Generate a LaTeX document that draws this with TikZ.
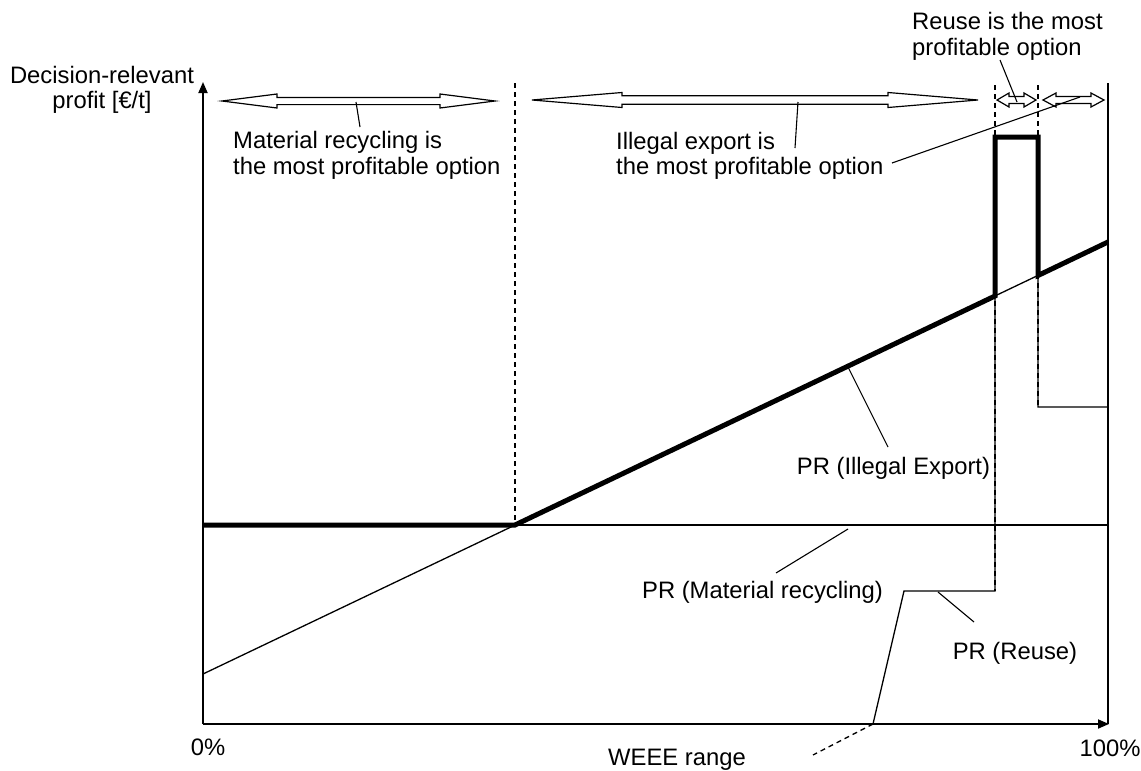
\documentclass[tikz,border=0pt]{standalone}
\usepackage{fontspec}
\setmainfont{Liberation Sans}
\usetikzlibrary{arrows.meta}
% hollow double-headed block arrow: x1, x2, y, head length, head half-height, shaft half-height
\newcommand\blockarrow[6]{%
  \draw[line width=1.2pt, fill=white, line join=miter]
    (#1,#3) -- ({#1+#4},{#3-#5}) -- ({#1+#4},{#3-#6}) -- ({#2-#4},{#3-#6})
    -- ({#2-#4},{#3-#5}) -- (#2,#3) -- ({#2-#4},{#3+#5}) -- ({#2-#4},{#3+#6})
    -- ({#1+#4},{#3+#6}) -- ({#1+#4},{#3+#5}) -- cycle;}
\begin{document}
\begin{tikzpicture}[x={(1pt,0)}, y={(0,-1pt)},
  lbl/.style={inner sep=0pt, font=\fontsize{23.8}{25.5}\selectfont},
  curve/.style={line width=1.3pt},
  bold curve/.style={line width=5pt, line join=miter},
  axis/.style={line width=1.8pt, -{Triangle[length=11pt,width=9pt]}},
  marker/.style={line width=1.3pt, dash pattern=on 5pt off 4pt},
  leader/.style={line width=1.1pt}]
\useasboundingbox (0,0) rectangle (1141,771);

% ---- axes and right frame line
\coordinate (O) at (203,724);
\coordinate (ytop) at (203,82);
\coordinate (xend) at (1109,724);
\coordinate (rtop) at (1108,83);
\draw[line width=1.8pt] (rtop) -- (1108,724);
\draw[axis] (O) -- (ytop);
\draw[axis] (O) -- (xend);

% ---- profit curves (thin)
\coordinate (mr0) at (203,525);
\coordinate (mr1) at (1108,525);
\coordinate (ie0) at (203,674);
\coordinate (ie1) at (1108,242);
\coordinate (cross) at (515,525);
\draw[curve] (mr0) -- (mr1);
\draw[curve] (ie0) -- (ie1);
\coordinate (ru0) at (873,724);
\coordinate (ru1) at (904,591);
\coordinate (ru2) at (995,591);
\coordinate (ru3) at (995,137);
\coordinate (ru4) at (1038,137);
\coordinate (ru5) at (1038,407);
\coordinate (ru6) at (1108,407);
\draw[curve, line join=miter] (ru0) -- (ru1) -- (ru2) -- (ru3) -- (ru4) -- (ru5) -- (ru6);
\coordinate (ruext) at (813,755);
\draw[marker] (ru0) -- (ruext);

% ---- upper envelope (bold)
\draw[bold curve] (mr0) -- (cross) -- (995,296) -- (ru3) -- (ru4) -- (1038,275.5) -- (ie1);

% ---- range boundaries
\draw[marker] (515,83) -- (cross);
\draw[marker] (995,85) -- (995,591);
\draw[marker] (1038,85) -- (ru5);

% ---- range arrows
\blockarrow{222}{495}{101}{55}{7}{3.6}
\blockarrow{532}{978}{100}{90}{7.5}{4.3}
\blockarrow{997}{1036}{100}{12}{7}{3.5}
\blockarrow{1043}{1104}{100}{13}{7}{3.5}

% ---- labels
\node[lbl, align=center] (ylab) at (102,90) {Decision-relevant\\profit [€/t]};
\node[lbl, align=left, anchor=west] (mrtxt) at (233,155.5) {Material recycling is\\the most profitable option};
\node[lbl, align=left, anchor=west] (ietxt) at (616,156) {Illegal export is\\the most profitable option};
\node[lbl, align=left, anchor=west] (rutxt) at (912,36.5) {Reuse is the most\\profitable option};
\node[lbl] (ielab) at (893.5,468) {PR (Illegal Export)};
\node[lbl] (mrlab) at (762.5,592) {PR (Material recycling)};
\node[lbl] (rulab) at (1015,653) {PR (Reuse)};
\node[lbl] (zero) at (208,747) {0\%};
\node[lbl] (hundred) at (1110,748) {100\%};
\node[lbl] (xlab) at (677,760) {WEEE range};

% ---- leader lines
\coordinate (l1a) at (360,127); \coordinate (l1b) at (356,102);
\draw[leader] (l1a) -- (l1b);
\coordinate (l2a) at (795,148); \coordinate (l2b) at (798,102);
\draw[leader] (l2a) -- (l2b);
\coordinate (l3a) at (892,163); \coordinate (l3b) at (1080,97);
\draw[leader] (l3a) -- (l3b);
\coordinate (l4a) at (1000,60); \coordinate (l4b) at (1017,102);
\draw[leader] (l4a) -- (l4b);
\coordinate (l5a) at (888,447); \coordinate (l5b) at (848,367);
\draw[leader] (l5a) -- (l5b);
\coordinate (l6a) at (776,573); \coordinate (l6b) at (848,529);
\draw[leader] (l6a) -- (l6b);
\coordinate (l7a) at (974,622); \coordinate (l7b) at (938,592);
\draw[leader] (l7a) -- (l7b);
\end{tikzpicture}
\end{document}
